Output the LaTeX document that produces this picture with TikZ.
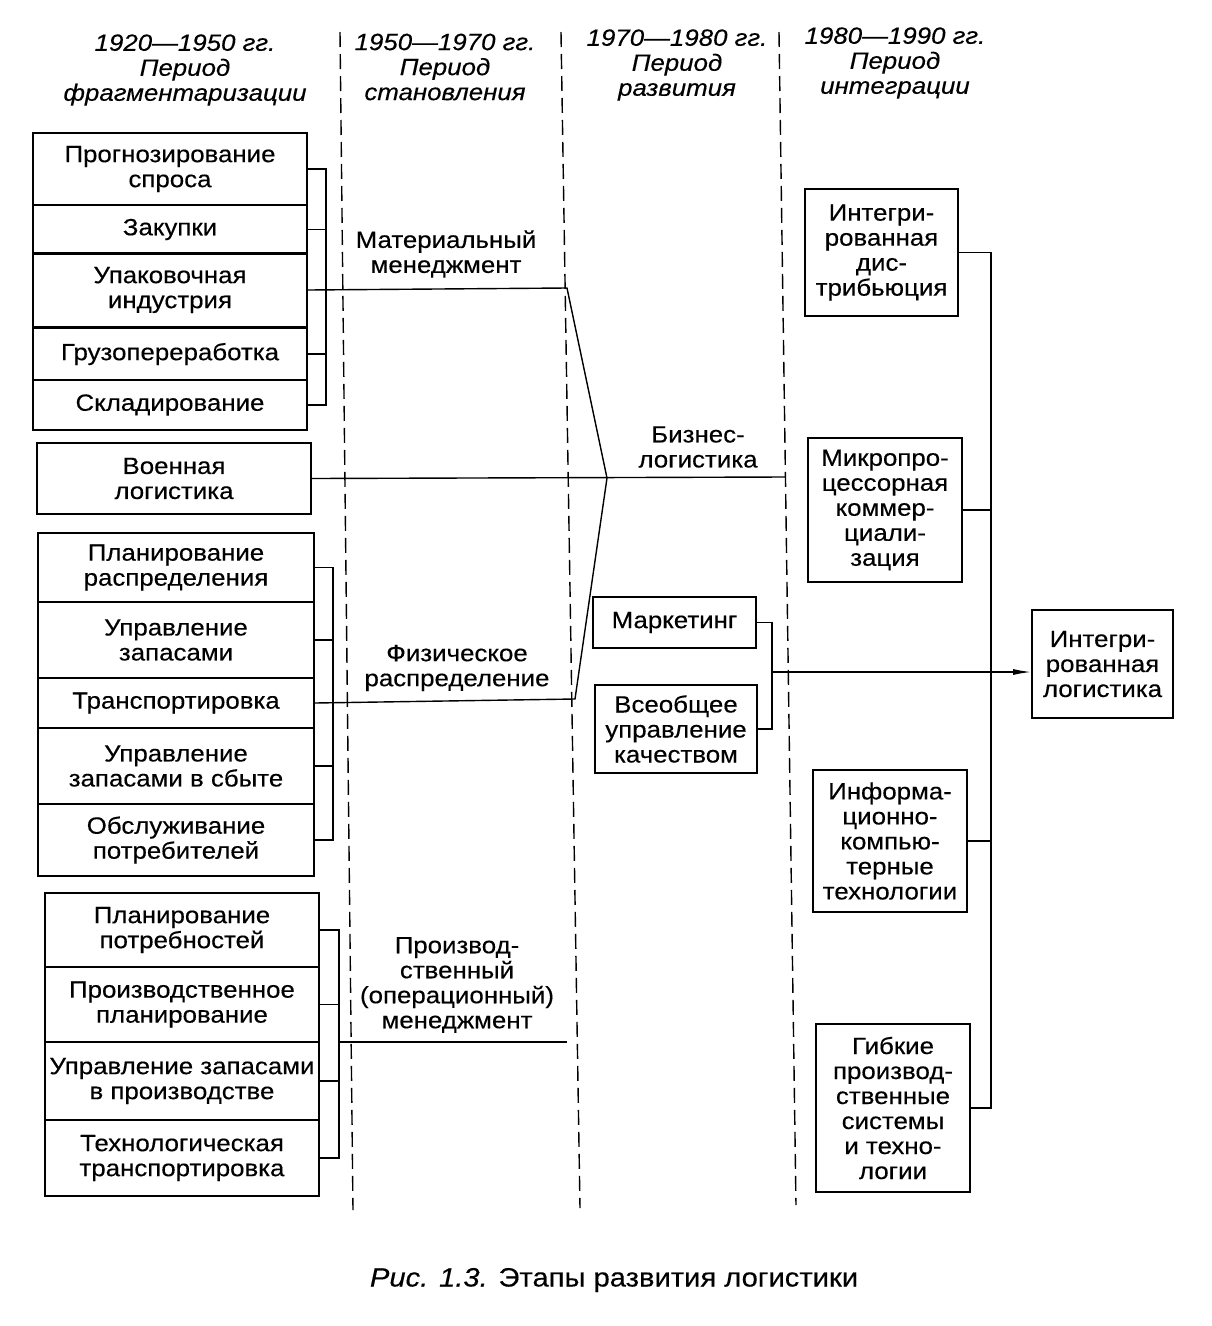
\documentclass[tikz,border=0pt]{standalone}
\usepackage{fontspec}
\setmainfont{Liberation Sans}[FakeStretch=1.1,FakeBold=0.3]
\usetikzlibrary{arrows.meta}
\tikzset{
  box/.style={draw, line width=1.6pt, align=center, inner sep=1pt, font=\fontsize{23.5}{25}\selectfont},
  lbl/.style={align=center, inner sep=0pt, font=\fontsize{23.5}{25}\selectfont},
  hdr/.style={align=center, inner sep=0pt, font=\fontsize{23.5}{25}\selectfont\itshape},
  conn/.style={line width=1.4pt},
  period/.style={line width=1.4pt, dash pattern=on 15pt off 7pt}
}
\begin{document}
\begin{tikzpicture}[x=1pt,y=-1pt]
\useasboundingbox[fill=white] (0,0) rectangle (1212,1326);

% period separators
\coordinate (d1t) at (340,32);  \coordinate (d1b) at (353,1210);
\coordinate (d2t) at (561,32);  \coordinate (d2b) at (580,1208);
\coordinate (d3t) at (779,32);  \coordinate (d3b) at (796,1205);
\draw[period] (d1t) -- (d1b);
\draw[period] (d2t) -- (d2b);
\draw[period] (d3t) -- (d3b);

% headers
\node[hdr] (h1) at (185,70) {1920—1950 гг.\\Период\\фрагментаризации};
\node[hdr] (h2) at (445,67) {1950—1970 гг.\\Период\\становления};
\node[hdr] (h3) at (677,65) {1970—1980 гг.\\Период\\развития};
\node[hdr] (h4) at (895,63) {1980—1990 гг.\\Период\\интеграции};

% group 1
\node[box, minimum width=274pt, minimum height=72pt] (g1a) at (170,169) {Прогнозирование\\спроса};
\node[box, minimum width=274pt, minimum height=49pt] (g1b) at (170,229.5) {Закупки};
\node[box, minimum width=274pt, minimum height=74pt] (g1c) at (170,290) {Упаковочная\\индустрия};
\node[box, minimum width=274pt, minimum height=52pt] (g1d) at (170,354) {Грузопереработка};
\node[box, minimum width=274pt, minimum height=50pt] (g1e) at (170,405) {Складирование};
\coordinate (b1) at (326,0);
\draw[conn] (g1a.east) -| (b1 |- g1e.east) -- (g1e.east);
\draw[conn] (g1b.east) -- (g1b.east -| b1);
\draw[conn] (g1d.east) -- (g1d.east -| b1);

% military logistics
\node[box, minimum width=274pt, minimum height=71pt] (vl) at (174,478.5) {Военная\\логистика};

% group 2
\node[box, minimum width=276pt, minimum height=69pt] (g2a) at (176,567.5) {Планирование\\распределения};
\node[box, minimum width=276pt, minimum height=76pt] (g2b) at (176,640) {Управление\\запасами};
\node[box, minimum width=276pt, minimum height=50pt] (g2c) at (176,703) {Транспортировка};
\node[box, minimum width=276pt, minimum height=76pt] (g2d) at (176,766) {Управление\\запасами в сбыте};
\node[box, minimum width=276pt, minimum height=72pt] (g2e) at (176,840) {Обслуживание\\потребителей};
\coordinate (b2) at (333,0);
\draw[conn] (g2a.east) -| (b2 |- g2e.east) -- (g2e.east);
\draw[conn] (g2b.east) -- (g2b.east -| b2);
\draw[conn] (g2d.east) -- (g2d.east -| b2);

% group 3
\node[box, minimum width=274pt, minimum height=74pt] (g3a) at (182,930) {Планирование\\потребностей};
\node[box, minimum width=274pt, minimum height=75pt] (g3b) at (182,1004.5) {Производственное\\планирование};
\node[box, minimum width=274pt, minimum height=78pt] (g3c) at (182,1081) {Управление запасами\\в производстве};
\node[box, minimum width=274pt, minimum height=76pt] (g3d) at (182,1158) {Технологическая\\транспортировка};
\coordinate (b3) at (339,0);
\draw[conn] (g3a.east) -| (b3 |- g3d.east) -- (g3d.east);
\draw[conn] (g3b.east) -- (g3b.east -| b3);
\draw[conn] (g3c.east) -- (g3c.east -| b3);

% middle labels
\node[lbl] (mm) at (446,254) {Материальный\\менеджмент};
\node[lbl] (bl) at (698,447) {Бизнес-\\логистика};
\node[lbl] (fr) at (457,668) {Физическое\\распределение};
\node[lbl] (pm) at (457,985) {Производ-\\ственный\\(операционный)\\менеджмент};

% main flow lines
\coordinate (mmE) at (567,288);
\coordinate (blJ) at (607,478);
\coordinate (frE) at (575,699);
\coordinate (veE) at (785,477);
\coordinate (pmS) at (339,1042);
\coordinate (pmE) at (567,1042);
\draw[conn] (g1c.east) -- (mmE) -- (blJ) -- (frE) -- (g2c.east);
\draw[conn] (vl.east) -- (veE);
\draw[conn] (pmS) -- (pmE);

% 1970-1980 boxes
\node[box, minimum width=163pt, minimum height=51pt] (mk) at (674.5,622.5) {Маркетинг};
\node[box, minimum width=162pt, minimum height=88pt] (vu) at (676,729) {Всеобщее\\управление\\качеством};
\coordinate (b4) at (772,0);
\draw[conn] (mk.east) -| (b4 |- vu.east) -- (vu.east);

% 1980-1990 boxes
\node[box, minimum width=153pt, minimum height=127pt] (r1) at (881.5,252.5) {Интегри-\\рованная\\дис-\\трибьюция};
\node[box, minimum width=154pt, minimum height=144pt] (r2) at (885,510) {Микропро-\\цессорная\\коммер-\\циали-\\зация};
\node[box, minimum width=154pt, minimum height=142pt] (r3) at (890,841) {Информа-\\ционно-\\компью-\\терные\\технологии};
\node[box, minimum width=154pt, minimum height=168pt] (r4) at (893,1108) {Гибкие\\производ-\\ственные\\системы\\и техно-\\логии};
\coordinate (b5) at (991,0);
\draw[conn] (r1.east) -| (b5 |- r4.east) -- (r4.east);
\draw[conn] (r2.east) -- (r2.east -| b5);
\draw[conn] (r3.east) -- (r3.east -| b5);

% result
\node[box, minimum width=141pt, minimum height=108pt] (il) at (1102.5,664) {Интегри-\\рованная\\логистика};
\coordinate (arS) at (772,672);
\draw[conn, -{Latex[length=18pt,width=6pt]}] (arS) -- (il.west |- arS);

% caption
\node[lbl, font=\fontsize{26.5}{28}\selectfont] (cap) at (614,1280) {\textit{Рис. 1.3.} Этапы развития логистики};
\end{tikzpicture}
\end{document}
